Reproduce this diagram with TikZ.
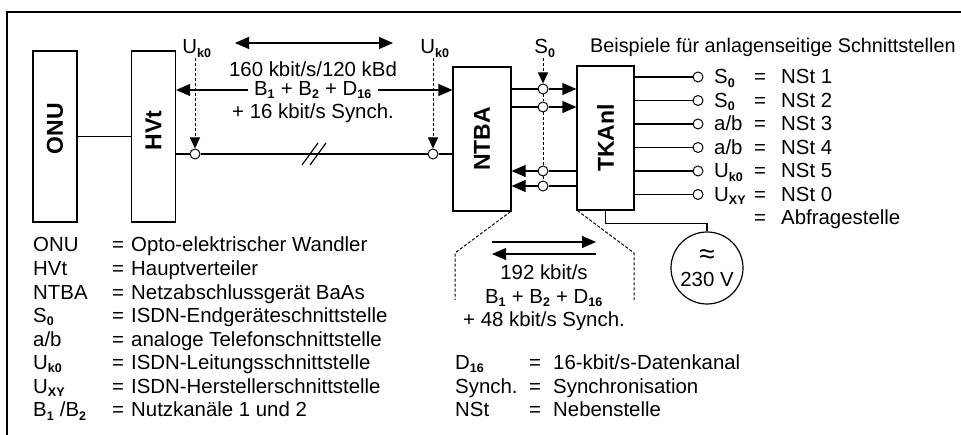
\documentclass[tikz,border=0pt]{standalone}
\usepackage{fontspec}
\setmainfont{Liberation Sans}
\usepackage{graphicx}
\usetikzlibrary{arrows.meta,positioning}

\newcommand{\idx}[1]{\textsubscript{\fontsize{12.5}{13}\selectfont\bfseries #1}}

\begin{document}
\begin{tikzpicture}[x=1pt, y=-1pt,
    font=\fontsize{20.4}{23.5}\selectfont,
    unit/.style={draw, line width=1.2pt, minimum width=44pt, minimum height=171pt,
      inner sep=0pt, font=\fontsize{23}{26}\selectfont\bfseries},
    port/.style={circle, draw, fill=white, line width=1pt, minimum size=10pt, inner sep=0pt},
    wire/.style={line width=1.2pt},
    arrow/.style={-{Triangle[length=14pt, width=12pt]}, line width=1.2pt},
    twoway/.style={{Triangle[length=14pt, width=12pt]}-{Triangle[length=14pt, width=12pt]}, line width=1.2pt},
    hint/.style={-{Triangle[length=11pt, width=10pt]}, line width=1pt, dash pattern=on 3pt off 2pt},
    fan/.style={line width=1pt, dash pattern=on 3pt off 2pt},
    txt/.style={inner sep=1pt},
  ]
    \useasboundingbox (0,0) rectangle (961,435);
    \draw[line width=1.2pt] (7,435) -- (7,12) -- (961,12);

    % boxes
    \node[unit] (onu) at (55,136.5) {\rotatebox{90}{\hspace{16pt}ONU}};
    \node[unit] (hvt) at (153.5,136.5) {\rotatebox{90}{\hspace{12pt}HVt}};
    \node[unit, minimum width=58pt, minimum height=144pt] (ntba) at (482,139) {\rotatebox{90}{NTBA}};
    \node[unit, minimum width=57pt, minimum height=144pt] (tkanl) at (605.5,138) {\rotatebox{90}{TKAnl}};

    % Uk0 line
    \node[port] (ua) at (195,154) {};
    \node[port] (ub) at (433,154) {};
    \draw[wire] (onu) -- (hvt);
    \draw[wire] (hvt.east |- ua) -- (ua) -- (ub) -- (ntba.west |- ub);
    \path (ua) -- (ub) coordinate[pos=0.5] (brk);
    \draw[wire] ([shift={(-12,11)}]brk) -- ++(16,-22) ([shift={(-4,11)}]brk) -- ++(16,-22);

    \node[txt, anchor=base] (uka) at (197,54) {U\idx{k0}};
    \node[txt, anchor=base] (ukb) at (435,54) {U\idx{k0}};
    \draw[hint] (uka.south -| ua) -- (ua);
    \draw[hint] (ukb.south -| ub) -- (ub);

    \coordinate (ra) at (235,43);
    \coordinate (rb) at (393,43);
    \draw[twoway] (ra) -- (rb);
    \node[txt] (rate) at (313,69) {160 kbit/s/120 kBd};
    \node[txt, inner sep=6pt] (chan) at (313,90) {B\idx{1} + B\idx{2} + D\idx{16}};
    \node[txt] (sync) at (313,113) {+ 16 kbit/s Synch.};
    \draw[arrow] (chan.west) -- (chan.west -| hvt.east);
    \draw[arrow] (chan.east) -- (chan.east -| ntba.west);

    % S0 bus
    \node[port] (sa) at (543,89) {};
    \node[port] (sb) at (543,107) {};
    \node[port] (sc) at (543,171) {};
    \node[port] (sd) at (543,186) {};
    \node[txt, anchor=base] (so) at (545,54) {S\idx{0}};
    \draw[hint] (so.south -| sa) -- (sa);
    \draw[fan] (sa) -- (sb) (sb) -- (sc) (sc) -- (sd);
    \draw[arrow] (ntba.east |- sa) -- (sa) -- (tkanl.west |- sa);
    \draw[arrow] (ntba.east |- sb) -- (sb) -- (tkanl.west |- sb);
    \draw[arrow] (tkanl.west |- sc) -- (sc) -- (ntba.east |- sc);
    \draw[arrow] (tkanl.west |- sd) -- (sd) -- (ntba.east |- sd);

    % TKAnl ports
    \node[txt, anchor=base west, font=\fontsize{19.8}{23.5}\selectfont] (title) at (589,53)
      {Beispiele für anlagenseitige Schnittstellen};
    \foreach \sym/\val [count=\i, evaluate=\i as \yy using 77+23.5*(\i-1)] in
      {S\idx{0}/NSt 1, S\idx{0}/NSt 2, {a/b}/NSt 3, {a/b}/NSt 4, U\idx{k0}/NSt 5, U\idx{XY}/NSt 0} {
      \node[port] (o\i) at (698,\yy) {};
      \draw[wire] (tkanl.east |- o\i) -- (o\i);
      \node[txt, anchor=base west] (osym\i) at (713,\yy+7) {\sym};
      \node[txt, anchor=base west] (oeq\i) at (753,\yy+7) {=};
      \node[txt, anchor=base west] (oval\i) at (780,\yy+7) {\val};
    }
    \node[txt, anchor=base west] (oeq7) at (753,225) {=};
    \node[txt, anchor=base west] (oval7) at (780,225) {Abfragestelle};

    % mains
    \node[circle, draw, line width=1.2pt, minimum size=72pt, inner sep=0pt, align=center] (mains) at (707,268)
      {{\fontsize{28}{20}\selectfont ≈}\\230 V};
    \draw[wire] (tkanl.south) -- ++(0,13) -| (mains.north);

    % S0 detail
    \coordinate (fl1) at (455,253);
    \coordinate (fl2) at (455,300);
    \coordinate (fr1) at (634,253);
    \coordinate (fr2) at (634,300);
    \draw[fan] ([xshift=-1pt]ntba.south east) -- (fl1) -- (fl2);
    \draw[fan] ([xshift=1pt]tkanl.south west) -- (fr1) -- (fr2);
    \coordinate (fa) at (492,242);
    \coordinate (fb) at (596,242);
    \coordinate (fc) at (596,254);
    \coordinate (fd) at (492,254);
    \draw[arrow] (fa) -- (fb);
    \draw[arrow] (fc) -- (fd);
    \node[txt, align=center] (busrate) at (544,298) {192 kbit/s\\B\idx{1} + B\idx{2} + D\idx{16}\\+ 48 kbit/s Synch.};

    % legend
    \foreach \sym/\txt [count=\i, evaluate=\i as \yy using 252+23.57*(\i-1)] in
      {ONU/Opto-elektrischer Wandler, HVt/Hauptverteiler, NTBA/Netzabschlussgerät BaAs,
       S\idx{0}/ISDN-Endgeräteschnittstelle, {a/b}/analoge Telefonschnittstelle,
       U\idx{k0}/ISDN-Leitungsschnittstelle, U\idx{XY}/ISDN-Herstellerschnittstelle,
       {B\idx{1} /B\idx{2}}/Nutzkanäle 1 und 2} {
      \node[txt, anchor=base west] (lsym\i) at (32,\yy) {\sym};
      \node[txt, anchor=base west] (leq\i) at (111,\yy) {=};
      \node[txt, anchor=base west] (ltxt\i) at (130,\yy) {\txt};
    }
    \foreach \sym/\txt [count=\i, evaluate=\i as \yy using 252+23.57*(\i+4)] in
      {D\idx{16}/{16-kbit/s-Datenkanal}, Synch./Synchronisation, NSt/Nebenstelle} {
      \node[txt, anchor=base west] (rsym\i) at (454,\yy) {\sym};
      \node[txt, anchor=base west] (req\i) at (528,\yy) {=};
      \node[txt, anchor=base west] (rtxt\i) at (552,\yy) {\txt};
    }
\end{tikzpicture}
\end{document}
